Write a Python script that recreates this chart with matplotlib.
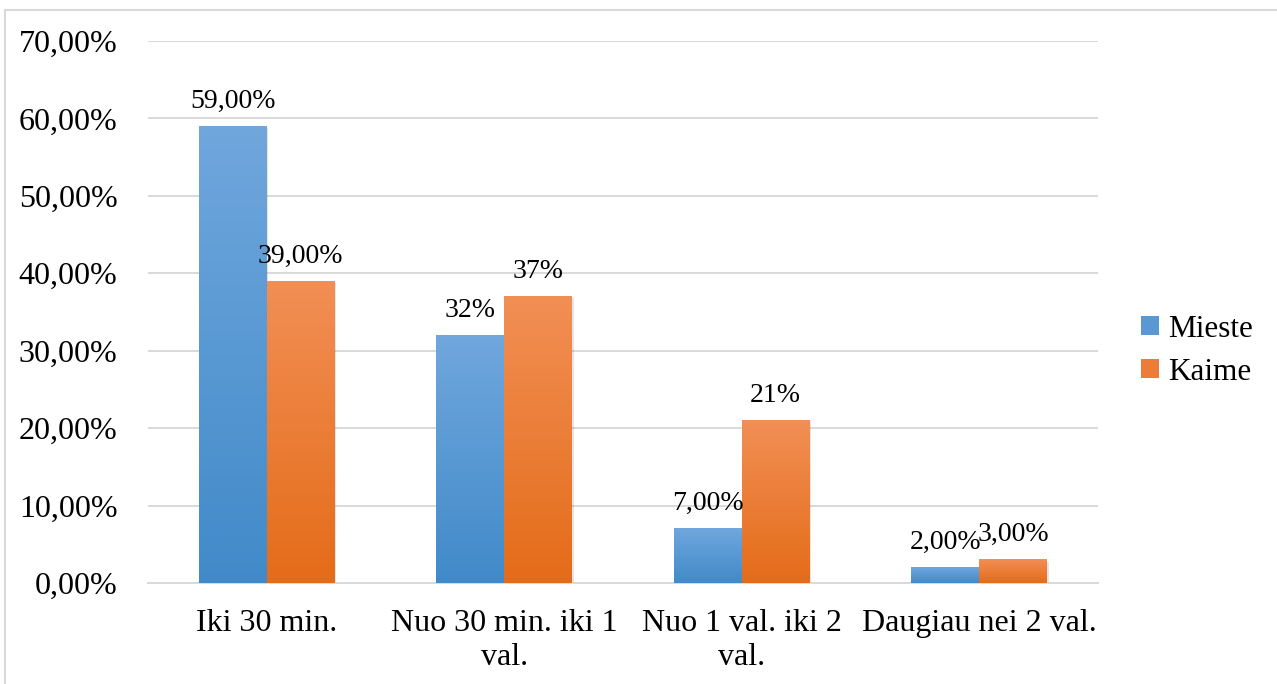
import numpy as np
import matplotlib
matplotlib.use("Agg")
import matplotlib.pyplot as plt
from matplotlib.patches import Rectangle, Patch
from matplotlib.lines import Line2D
from matplotlib.colors import LinearSegmentedColormap

# Data
categories = ["Iki 30 min.", "Nuo 30 min. iki 1\nval.", "Nuo 1 val. iki 2\nval.", "Daugiau nei 2 val."]
mieste = [59.0, 32.0, 7.0, 2.0]
kaime = [39.0, 37.0, 21.0, 3.0]
mieste_labels = ["59,00%", "32%", "7,00%", "2,00%"]
kaime_labels = ["39,00%", "37%", "21%", "3,00%"]
series_names = ["Mieste", "Kaime"]
yticks = [0, 10, 20, 30, 40, 50, 60, 70]
ytick_labels = ["0,00%", "10,00%", "20,00%", "30,00%", "40,00%", "50,00%", "60,00%", "70,00%"]

plt.rcParams["font.family"] = ["Liberation Serif", "DejaVu Serif"]

blue_top, blue_bot = "#70a7dd", "#418ac9"
orange_top, orange_bot = "#f28f55", "#e46c19"

fig = plt.figure(figsize=(12.77, 6.84), dpi=100)
ax = fig.add_axes([0.1159, 0.1477, 0.7439, 0.7924])

width = 0.2863
x = np.arange(len(categories))


def gradient_bar(ax, x0, h, top, bot):
    # soft shadow
    ax.add_patch(Rectangle((x0 + 0.006, -0.35), width, h + 0.1, facecolor="#000000",
                           alpha=0.10, edgecolor="none", zorder=2))
    cmap = LinearSegmentedColormap.from_list("g", [bot, top])
    grad = np.linspace(0, 1, 256).reshape(-1, 1)
    ax.imshow(grad, cmap=cmap, origin="lower", aspect="auto",
              extent=[x0, x0 + width, 0, h], zorder=3, interpolation="bilinear")


for i in range(len(categories)):
    gradient_bar(ax, x[i] - width, mieste[i], blue_top, blue_bot)
    gradient_bar(ax, x[i], kaime[i], orange_top, orange_bot)
    ax.text(x[i] - width / 2, mieste[i] + 1.6, mieste_labels[i], ha="center", va="bottom",
            fontsize=20, zorder=5)
    ax.text(x[i] + width / 2, kaime[i] + 1.6, kaime_labels[i], ha="center", va="bottom",
            fontsize=20, zorder=5)

ax.set_xlim(-0.5, len(categories) - 0.5)
ax.set_ylim(0, 70)
ax.set_yticks(yticks)
ax.set_yticklabels(ytick_labels, fontsize=23)
ax.set_xticks(x)
ax.set_xticklabels(categories, fontsize=23, linespacing=1.2)
ax.tick_params(axis="y", length=0, pad=22)
ax.tick_params(axis="x", length=0, pad=19)
ax.grid(axis="y", color="#d9d9d9", linewidth=1.4, zorder=0)
ax.set_axisbelow(True)
for s in ["top", "right", "left"]:
    ax.spines[s].set_visible(False)
ax.spines["bottom"].set_color("#d9d9d9")
ax.spines["bottom"].set_linewidth(1.4)

handles = [Patch(facecolor="#5a98d3", edgecolor="none"),
           Patch(facecolor="#ec7d38", edgecolor="none")]
fig.legend(handles, series_names, loc="center left", bbox_to_anchor=(0.884, 0.487),
           frameon=False, fontsize=22.5, handlelength=0.55, handleheight=0.55,
           handletextpad=0.3, labelspacing=0.45, borderaxespad=0)

# chart frame
fig.add_artist(Line2D([5 / 1277, 1.0], [1 - 10 / 684, 1 - 10 / 684], color="#d9d9d9", linewidth=1.5))
fig.add_artist(Line2D([5 / 1277, 5 / 1277], [0.0, 1 - 10 / 684], color="#d9d9d9", linewidth=1.5))

fig.savefig("out.png", dpi=100, facecolor="white")
